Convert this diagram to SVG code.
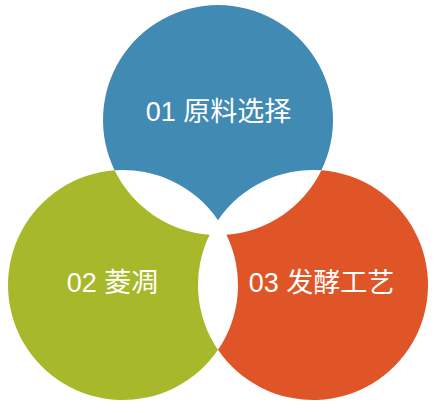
<svg xmlns="http://www.w3.org/2000/svg" width="436" height="413" viewBox="0 0 436 413">
<style>
.lbl{font-family:"Liberation Sans","Noto Sans CJK SC",sans-serif;font-size:27px;fill:#ffffff;text-anchor:middle}
</style>
<rect width="436" height="413" fill="#ffffff"/>
<g id="node-1">
<path d="M114.59,170.31 A115,115 0 1 1 321.41,170.31 A115,115 0 0 0 218,220.19 A115,115 0 0 0 114.59,170.31 Z" fill="#418AB3"/>
<text class="lbl" x="218.5" y="120.5">01 原料选择</text>
</g>
<g id="node-2">
<path d="M114.59,170.31 A115,115 0 1 0 218,349.81 A115,115 0 0 1 209.59,234.69 A115,115 0 0 1 114.59,170.31 Z" fill="#A7B92A"/>
<text class="lbl" x="112.5" y="291.5">02 菱凋</text>
</g>
<g id="node-3">
<path d="M321.41,170.31 A115,115 0 1 1 218,349.81 A115,115 0 0 0 226.41,234.69 A115,115 0 0 0 321.41,170.31 Z" fill="#E05528"/>
<text class="lbl" x="321.5" y="291.5">03 发酵工艺</text>
</g>
<g id="connectors"></g>
</svg>
